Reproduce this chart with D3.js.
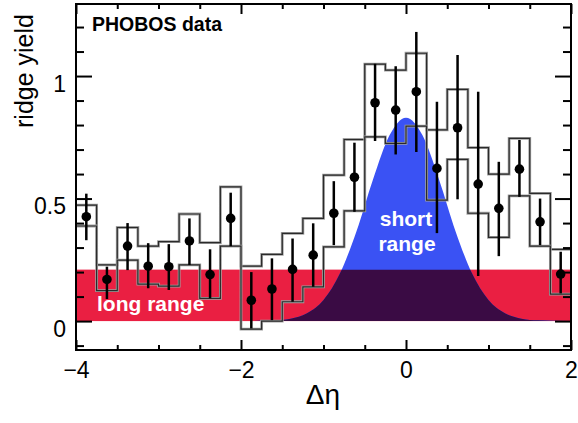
<!DOCTYPE html>
<html>
<head>
<meta charset="utf-8">
<script src="https://cdn.jsdelivr.net/npm/d3@7"></script>
<style>
body { margin: 0; background: #fff; }
text { font-family: "Liberation Sans", Arial, Helvetica, sans-serif; }
</style>
</head>
<body>
<svg id="chart" width="578" height="423"></svg>
<script>
// PHOBOS ridge yield vs delta eta
const binCenters = [-3.875, -3.625, -3.375, -3.125, -2.875, -2.625, -2.375, -2.125,
	-1.875, -1.625, -1.375, -1.125, -0.875, -0.625, -0.375, -0.125,
	0.125, 0.375, 0.625, 0.875, 1.125, 1.375, 1.625, 1.875];
const binWidth = 0.25;
const ridgeYield = [0.426, 0.17, 0.306, 0.224, 0.222, 0.327, 0.19, 0.419,
	0.085, 0.131, 0.211, 0.269, 0.44, 0.587, 0.891, 0.861,
	0.936, 0.623, 0.789, 0.559, 0.46, 0.62, 0.405, 0.192];
const errLow = [0.33, 0.09, 0.208, 0.134, 0.127, 0.229, 0.093, 0.306,
	-0.03, 0.004, 0.079, 0.14, 0.31, 0.446, 0.735, 0.68,
	0.69, 0.359, 0.497, 0.184, 0.265, 0.507, 0.31, 0.113];
const errHigh = [0.52, 0.222, 0.40, 0.318, 0.314, 0.419, 0.293, 0.524,
	0.2, 0.256, 0.337, 0.399, 0.571, 0.728, 1.05, 1.04,
	1.18, 0.895, 1.086, 0.936, 0.65, 0.739, 0.5, 0.283];
const sysLow = [0.388, 0.124, 0.249, 0.151, 0.143, 0.229, 0.093, 0.306,
	-0.033, 0.0, 0.079, 0.14, 0.303, 0.45, 0.752, 0.725,
	0.796, 0.494, 0.66, 0.44, 0.342, 0.511, 0.306, 0.11];
const sysHigh = [0.473, 0.229, 0.382, 0.306, 0.324, 0.437, 0.32, 0.548,
	0.224, 0.272, 0.358, 0.419, 0.596, 0.741, 1.049, 1.024,
	1.093, 0.78, 0.946, 0.708, 0.6, 0.746, 0.521, 0.293];

// long range plateau and short range peak
const longRange = 0.21;
const shortEta = [-2, -1.6, -1.4, -1.2, -1.0, -0.8, -0.6, -0.4, -0.2, 0,
	0.2, 0.4, 0.6, 0.8, 1.0, 1.2, 1.4, 1.6, 2];
const shortYield = [0, 0.003, 0.010, 0.032, 0.086, 0.195, 0.367, 0.578, 0.758, 0.83,
	0.758, 0.578, 0.367, 0.195, 0.086, 0.032, 0.010, 0.003, 0];

const xMajor = [-4, -2, 0, 2];
const xMinor = [-3.5, -3, -2.5, -1.5, -1, -0.5, 0.5, 1, 1.5];
const yMajor = [0, 0.5, 1];
const yMinor = [-0.1, 0.1, 0.2, 0.3, 0.4, 0.6, 0.7, 0.8, 0.9, 1.1, 1.2];

const colors = { red: '#ea1f42', blue: '#3a52f4', purple: '#3a0b44' };

const plotLeft = 76, plotRight = 571, plotTop = 4, plotBottom = 350;

const svg = d3.select('#chart');

const x = d3.scaleLinear().domain([-4, 2]).range([plotLeft, plotRight]);
const y = d3.scaleLinear().domain([-0.118, 1.294]).range([plotBottom, plotTop]);

// red band
svg.append('rect')
	.attr('x', x(-4)).attr('y', y(longRange))
	.attr('width', x(2) - x(-4)).attr('height', y(0) - y(longRange))
	.attr('fill', colors.red);

const shortData = shortEta.map((e, i) => [e, shortYield[i]]);
const area = d3.area()
	.x(d => x(d[0]))
	.y0(y(0))
	.y1(d => y(d[1]))
	.curve(d3.curveMonotoneX);

svg.append('path').datum(shortData)
	.attr('d', area)
	.attr('fill', colors.blue);

svg.append('clipPath').attr('id', 'band')
	.append('rect')
	.attr('x', x(-4)).attr('y', y(longRange))
	.attr('width', x(2) - x(-4)).attr('height', y(0) - y(longRange));

svg.append('path').datum(shortData)
	.attr('d', area)
	.attr('fill', colors.purple)
	.attr('clip-path', 'url(#band)');

// labels on the colour regions
svg.append('text')
	.attr('x', 97).attr('y', 311)
	.attr('fill', '#fff').attr('font-weight', 'bold').attr('font-size', 21)
	.text('long range');
svg.append('text')
	.attr('x', x(0)).attr('y', 226)
	.attr('text-anchor', 'middle')
	.attr('fill', '#fff').attr('font-weight', 'bold').attr('font-size', 21)
	.text('short');
svg.append('text')
	.attr('x', x(0) + 1).attr('y', 251)
	.attr('text-anchor', 'middle')
	.attr('fill', '#fff').attr('font-weight', 'bold').attr('font-size', 21)
	.text('range');

// systematic histograms
const stepPoints = vals => binCenters.flatMap((c, i) => [
	[c - binWidth / 2, vals[i]], [c + binWidth / 2, vals[i]]
]);
const stepLine = d3.line().x(d => x(d[0])).y(d => y(d[1]));

[sysHigh, sysLow].forEach(vals => {
	svg.append('path').datum(stepPoints(vals))
		.attr('d', stepLine)
		.attr('fill', 'none')
		.attr('stroke', '#a0a0a0')
		.attr('stroke-width', 2.8);
	svg.append('path').datum(stepPoints(vals))
		.attr('d', stepLine)
		.attr('fill', 'none')
		.attr('stroke', '#2a2a2a')
		.attr('stroke-width', 1.2);
});

// data points with error bars
const pts = svg.append('g');
pts.selectAll('line').data(binCenters)
	.enter().append('line')
		.attr('stroke', '#000')
		.attr('stroke-width', 2.5)
		.attr('x1', d => x(d)).attr('x2', d => x(d))
		.attr('y1', (d, i) => y(errLow[i]))
		.attr('y2', (d, i) => y(errHigh[i]));
pts.selectAll('circle').data(binCenters)
	.enter().append('circle')
		.attr('fill', '#000')
		.attr('r', 4.8)
		.attr('cx', d => x(d))
		.attr('cy', (d, i) => y(ridgeYield[i]));

// frame
svg.append('rect')
	.attr('x', plotLeft).attr('y', plotTop)
	.attr('width', plotRight - plotLeft).attr('height', plotBottom - plotTop)
	.attr('fill', 'none').attr('stroke', '#000').attr('stroke-width', 2);

const fmtX = d => d < 0 ? '\u2212' + Math.abs(d) : String(d);

const addAxis = (axis, tx, ty) => {
	const g = svg.append('g')
		.attr('transform', `translate(${tx},${ty})`)
		.call(axis);
	g.select('.domain').remove();
	g.selectAll('line').attr('stroke', '#000').attr('stroke-width', 2);
	g.selectAll('text')
		.attr('font-size', 23)
		.attr('font-family', '"Liberation Sans", Arial, Helvetica, sans-serif')
		.attr('fill', '#000');
	return g;
};

addAxis(d3.axisBottom(x).tickValues(xMajor).tickSizeInner(-10).tickSizeOuter(0)
	.tickPadding(12).tickFormat(fmtX), 0, plotBottom);
addAxis(d3.axisBottom(x).tickValues(xMinor).tickSizeInner(-5).tickSizeOuter(0)
	.tickFormat(''), 0, plotBottom);
addAxis(d3.axisTop(x).tickValues(xMajor).tickSizeInner(-10).tickSizeOuter(0)
	.tickFormat(''), 0, plotTop);
addAxis(d3.axisTop(x).tickValues(xMinor).tickSizeInner(-5).tickSizeOuter(0)
	.tickFormat(''), 0, plotTop);

const yAx = addAxis(d3.axisLeft(y).tickValues(yMajor).tickSizeInner(-16).tickSizeOuter(0)
	.tickPadding(10).tickFormat(d => String(d)), plotLeft, 0);
yAx.selectAll('text').attr('dy', '0.66em');
addAxis(d3.axisLeft(y).tickValues(yMinor).tickSizeInner(-8).tickSizeOuter(0)
	.tickFormat(''), plotLeft, 0);
addAxis(d3.axisRight(y).tickValues(yMajor).tickSizeInner(-16).tickSizeOuter(0)
	.tickFormat(''), plotRight, 0);
addAxis(d3.axisRight(y).tickValues(yMinor).tickSizeInner(-8).tickSizeOuter(0)
	.tickFormat(''), plotRight, 0);

// titles
svg.append('text')
	.attr('x', 92).attr('y', 31)
	.attr('font-weight', 'bold').attr('font-size', 19.5)
	.text('PHOBOS data');

svg.append('text')
	.attr('transform', 'translate(33,71) rotate(-90)')
	.attr('text-anchor', 'middle')
	.attr('font-size', 25)
	.text('ridge yield');

svg.append('text')
	.attr('x', 323).attr('y', 404)
	.attr('text-anchor', 'middle')
	.attr('font-size', 28)
	.text('\u0394\u03b7');
</script>
</body>
</html>
